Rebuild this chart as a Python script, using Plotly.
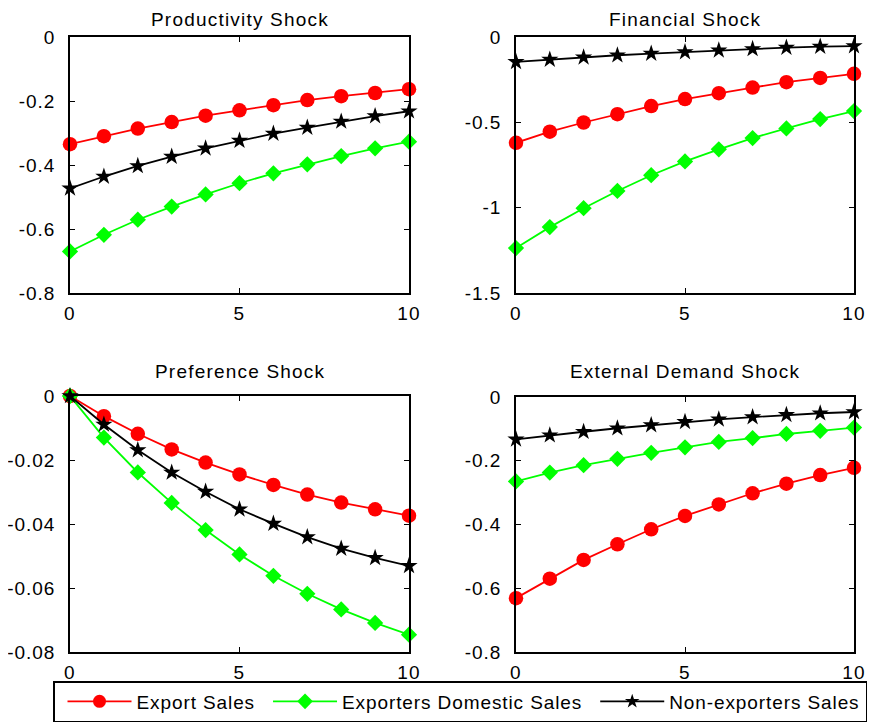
import plotly.graph_objects as go

periods = list(range(11))

prod_export = [-0.335, -0.310, -0.286, -0.266, -0.246, -0.229, -0.213, -0.197, -0.185, -0.175, -0.163]
prod_domestic = [-0.670, -0.618, -0.571, -0.530, -0.492, -0.457, -0.426, -0.398, -0.372, -0.348, -0.327]
prod_nonexp = [-0.473, -0.436, -0.403, -0.374, -0.348, -0.324, -0.302, -0.283, -0.264, -0.247, -0.232]

fin_export = [-0.620, -0.555, -0.501, -0.452, -0.405, -0.364, -0.329, -0.296, -0.265, -0.240, -0.216]
fin_domestic = [-1.237, -1.114, -1.003, -0.902, -0.810, -0.729, -0.658, -0.592, -0.536, -0.481, -0.434]
fin_nonexp = [-0.146, -0.132, -0.119, -0.107, -0.097, -0.088, -0.078, -0.070, -0.062, -0.056, -0.053]

pref_export = [0, -0.0063, -0.0118, -0.0167, -0.0208, -0.0245, -0.0278, -0.0308, -0.0333, -0.0354, -0.0374]
pref_domestic = [0, -0.0130, -0.0239, -0.0334, -0.0419, -0.0495, -0.0562, -0.0618, -0.0667, -0.0709, -0.0746]
pref_nonexp = [0, -0.0089, -0.0169, -0.0239, -0.0299, -0.0354, -0.0399, -0.0441, -0.0477, -0.0506, -0.0531]

ext_export = [-0.631, -0.570, -0.511, -0.462, -0.415, -0.373, -0.337, -0.302, -0.272, -0.245, -0.222]
ext_domestic = [-0.265, -0.237, -0.214, -0.194, -0.175, -0.158, -0.141, -0.129, -0.116, -0.106, -0.096]
ext_nonexp = [-0.133, -0.120, -0.109, -0.098, -0.088, -0.078, -0.070, -0.063, -0.056, -0.051, -0.047]

panel_titles = ["Productivity Shock", "Financial Shock", "Preference Shock", "External Demand Shock"]
series_names = ["Export Sales", "Exporters Domestic Sales", "Non-exporters Sales"]

x_tickvals = [0, 5, 10]
x_ticktext = ["0", "5", "10"]

prod_yticks = [0, -0.2, -0.4, -0.6, -0.8]
prod_ytext = ["0", "-0.2", "-0.4", "-0.6", "-0.8"]
fin_yticks = [0, -0.5, -1, -1.5]
fin_ytext = ["0", "-0.5", "-1", "-1.5"]
pref_yticks = [0, -0.02, -0.04, -0.06, -0.08]
pref_ytext = ["0", "-0.02", "-0.04", "-0.06", "-0.08"]
ext_yticks = [0, -0.2, -0.4, -0.6, -0.8]
ext_ytext = ["0", "-0.2", "-0.4", "-0.6", "-0.8"]

panels = [
    (prod_export, prod_domestic, prod_nonexp, prod_yticks, prod_ytext, [-0.8, 0]),
    (fin_export, fin_domestic, fin_nonexp, fin_yticks, fin_ytext, [-1.5, 0]),
    (pref_export, pref_domestic, pref_nonexp, pref_yticks, pref_ytext, [-0.08, 0]),
    (ext_export, ext_domestic, ext_nonexp, ext_yticks, ext_ytext, [-0.8, 0]),
]

# page body has an 8px default margin: shrink figure and shift coordinates
OFF = 8
W, H = 875 - OFF, 723 - OFF
colors = ["#ff0000", "#00ff00", "#000000"]
symbols = ["circle", "diamond", "star"]
msizes = [14.5, 12.5, 13]
legend_msizes = [13, 12, 11]


def spaced(s, sp=1.2):
    return '<span style="letter-spacing:%gpx">%s</span>' % (sp, s)


def px(xp):
    return (xp - OFF) / W


def py(yp):
    return 1 - (yp - OFF) / H


# plot-area pixel boxes in page coordinates (left, right, top, bottom)
boxes = [(70, 409, 37, 293), (516, 854, 37, 293), (70, 409, 396, 652), (516, 854, 397, 652)]

FAM = "Liberation Sans, Arial, sans-serif"
font = dict(family=FAM, size=19, color="black")

fig = go.Figure()
layout = dict(
    width=W, height=H,
    margin=dict(l=0, r=0, t=0, b=0, autoexpand=False),
    paper_bgcolor="white", plot_bgcolor="white",
    font=font,
    annotations=[],
)

for i, (ys_e, ys_d, ys_n, yt, ytt, yr) in enumerate(panels):
    idx = "" if i == 0 else str(i + 1)
    xa, ya = "x" + idx, "y" + idx
    for j, ys in enumerate([ys_e, ys_d, ys_n]):
        fig.add_trace(go.Scatter(
            x=periods, y=ys, mode="lines+markers", name=series_names[j],
            line=dict(color=colors[j], width=1.8),
            marker=dict(symbol=symbols[j], size=msizes[j], color=colors[j], line=dict(width=0)),
            xaxis=xa, yaxis=ya, cliponaxis=False, showlegend=False,
        ))
    l, r, t, b = boxes[i]
    axcommon = dict(showgrid=False, zeroline=False, showline=True, linecolor="black", linewidth=1.5,
                    mirror="ticks", ticks="inside", ticklen=5, tickcolor="black", tickwidth=1,
                    tickfont=font, automargin=False)
    layout["xaxis" + idx] = dict(axcommon, domain=[px(l), px(r)], range=[0, 10],
                                 tickvals=x_tickvals, ticktext=[spaced(s) for s in x_ticktext],
                                 anchor=ya, ticklabelstandoff=2)
    layout["yaxis" + idx] = dict(axcommon, domain=[py(b), py(t)], range=yr,
                                 tickvals=yt, ticktext=[spaced(s, 1.0) for s in ytt], anchor=xa,
                                 ticklabelstandoff=9)
    if i < 2:
        ann_y, ann_anchor = 1.0, "top"
    else:
        ann_y, ann_anchor = py(371), "middle"
    layout["annotations"].append(dict(
        text=spaced(panel_titles[i]), x=px((l + r) / 2), y=ann_y,
        xref="paper", yref="paper", showarrow=False, xanchor="center", yanchor=ann_anchor,
        font=font, borderpad=0,
    ))

# legend entries (no data of their own)
for j in range(3):
    fig.add_trace(go.Scatter(
        x=[None], y=[None], mode="lines+markers", name=spaced(series_names[j], 0.9),
        line=dict(color=colors[j], width=1.8),
        marker=dict(symbol=symbols[j], size=legend_msizes[j], color=colors[j], line=dict(width=0)),
        showlegend=True,
    ))

layout["legend"] = dict(
    orientation="h", x=px(53), y=py(681), xanchor="left", yanchor="top",
    bordercolor="black", borderwidth=1.5, bgcolor="white",
    font=dict(family=FAM, size=19, color="black"),
    itemwidth=64, tracegroupgap=0, indentation=8,
)

fig.update_layout(**layout)
fig.write_html("out.html")
